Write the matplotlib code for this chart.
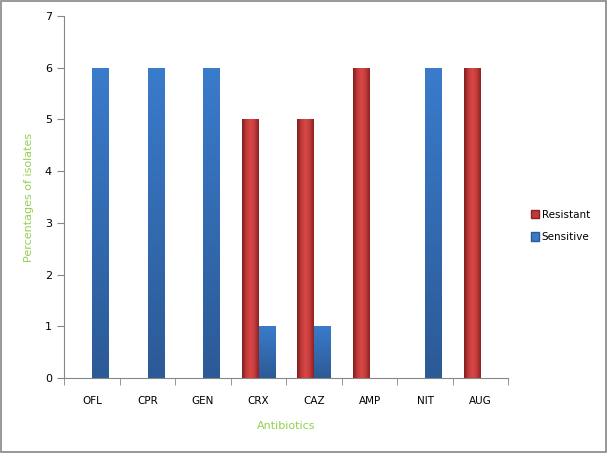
import numpy as np
import matplotlib
matplotlib.use("Agg")
import matplotlib.pyplot as plt
from matplotlib.colors import LinearSegmentedColormap
from matplotlib.patches import Rectangle

# Data
categories = ['OFL', 'CPR', 'GEN', 'CRX', 'CAZ', 'AMP', 'NIT', 'AUG']
resistant = [0, 0, 0, 5, 5, 6, 0, 6]
sensitive = [6, 6, 6, 1, 1, 0, 6, 0]

# Styling
green = '#92D050'
axis_gray = '#868686'
bar_w = 0.305
red_cmap = LinearSegmentedColormap.from_list('red', ['#7E1E1E', '#C03A3A', '#D84846', '#C43C3C', '#8A2222'])
blue_cmap = LinearSegmentedColormap.from_list('blue', ['#2C5A96', '#3A7BCB'])

fig = plt.figure(figsize=(6.07, 4.53), dpi=100)
ax = fig.add_axes([64.3/607, 1-378/453, 444/607, 362/453])

x = np.arange(len(categories))


def gradient_bar(ax, xc, h, cmap, horizontal):
    if h <= 0:
        return
    left = xc - bar_w/2
    patch = Rectangle((left, 0), bar_w, h, facecolor='none', edgecolor='none')
    ax.add_patch(patch)
    if horizontal:
        grad = np.linspace(0, 1, 64).reshape(1, -1)
    else:
        grad = np.linspace(0, 1, 64).reshape(-1, 1)
    im = ax.imshow(grad, cmap=cmap, extent=(left, left + bar_w, 0, h),
                   origin='lower', aspect='auto', zorder=2, interpolation='bicubic')
    im.set_clip_path(patch)


for i in x:
    gradient_bar(ax, i - bar_w/2, resistant[i], red_cmap, True)
    gradient_bar(ax, i + bar_w/2, sensitive[i], blue_cmap, False)

ax.set_xlim(-0.5, len(categories) - 0.5)
ax.set_ylim(0, 7)
ax.set_yticks(range(0, 8))
ax.set_xticks(x)
ax.set_xticklabels(categories)
ax.set_xticks(np.arange(-0.5, len(categories)), minor=True)

for side in ['top', 'right']:
    ax.spines[side].set_visible(False)
for side in ['left', 'bottom']:
    ax.spines[side].set_color(axis_gray)

ax.tick_params(axis='y', length=5, color=axis_gray, labelsize=8, pad=4)
ax.tick_params(axis='x', which='major', length=0, labelsize=7.5, pad=13)
ax.tick_params(axis='x', which='minor', length=5, color=axis_gray)

ax.set_ylabel('Percentages of isolates', color=green, fontsize=8, labelpad=8)
ax.set_xlabel('Antibiotics', color=green, fontsize=8, labelpad=11)

# legend
handles = [Rectangle((0, 0), 1, 1, facecolor='#C03A3A', edgecolor='#8A2222'),
           Rectangle((0, 0), 1, 1, facecolor='#3A78C8', edgecolor='#2C5A96')]
fig.legend(handles, ['Resistant', 'Sensitive'], loc='center left',
           bbox_to_anchor=(522/607, 1 - 226/453), frameon=False, fontsize=7.5,
           handlelength=0.7, handleheight=0.9, handletextpad=0.3, labelspacing=1.2)

# outer border
fig.patches.append(Rectangle((0.002, 0.002), 0.996, 0.995, transform=fig.transFigure,
                             fill=False, edgecolor=axis_gray, linewidth=1.2))

fig.savefig('out.png', dpi=100)
